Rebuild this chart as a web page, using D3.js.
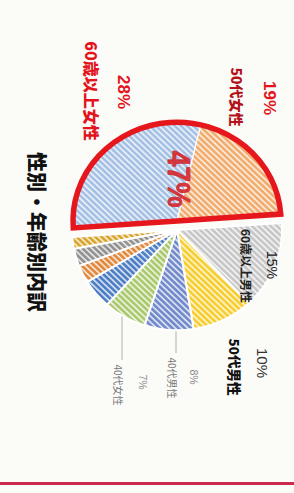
<!DOCTYPE html>
<html>
<head>
<meta charset="utf-8">
<script src="https://cdn.jsdelivr.net/npm/d3@7"></script>
<style>
  html, body { margin: 0; padding: 0; background: #fbfbf8; }
  svg { display: block; }
  text { font-family: "Noto Sans CJK JP", "Noto Sans", sans-serif; }
</style>
</head>
<body>
<svg id="chart" width="294" height="493"></svg>
<script>
// データ
var categories = ["60歳以上女性","50代女性","60歳以上男性","50代男性","40代男性","40代女性","30代男性","30代女性","20代男性","その他"];
var values = [28,19,15,10,8,7,5,3,3,2];
var colors = ["#a3c0e4","#f1ab6c","#c6c6c6","#f6cd2c","#6f88c9","#a9c86c","#4b7cc3","#e1873b","#909090","#d7a52c"];
var groupTotal = "47%";   // 50代以上女性 合計
var title = "性別・年齢別内訳";

// ラベル位置 (画面座標)  [名前x, 名前y, %x, %y]
var labelPos = [
  [92, 91, 123, 92],
  [237, 97, 269, 98],
  [246, 266, 272, 265],
  [235, 367, 262, 363],
  [172, 378, 194, 377],
  [118, 385, 143, 382]
];
var labelStyle = [
  {c1:"#e3141c", c2:"#e3141c", s1:16, s2:17, w1:900, w2:700},
  {c1:"#b3121a", c2:"#e3141c", s1:14, s2:17, w1:900, w2:700},
  {c1:"#222", c2:"#222", s1:12, s2:14, w1:700, w2:400},
  {c1:"#111", c2:"#333", s1:13.5, s2:15, w1:900, w2:400},
  {c1:"#777", c2:"#888", s1:10, s2:10.5, w1:400, w2:400},
  {c1:"#777", c2:"#888", s1:10, s2:10.5, w1:400, w2:400}
];

var svg = d3.select("#chart");
var cx = 177;
var deg = Math.PI/180;
var tilt = -94;   // 半円の向き

// 斜線パターン
var defs = svg.append("defs");
colors.forEach(function(c,i){
  var p = defs.append("pattern")
    .attr("id","hatch"+i)
    .attr("patternUnits","userSpaceOnUse")
    .attr("width",4.4).attr("height",4.4)
    .attr("patternTransform","rotate(-45)");
  p.append("rect").attr("width",4.4).attr("height",4.4).attr("fill",c);
  p.append("line").attr("x1",1).attr("y1",0).attr("x2",1).attr("y2",4.4)
    .attr("stroke","#fff").attr("stroke-width",1.7).attr("stroke-opacity",0.8);
});

// 上の半円 (女性50代以上) と下の半円はそれぞれ180度
var pieTop = d3.pie().sort(null)
  .startAngle(tilt*deg).endAngle((tilt+180)*deg)
  .value(function(d){return d});
var pieBottom = d3.pie().sort(null)
  .startAngle((tilt+180)*deg).endAngle((tilt+360)*deg)
  .value(function(d){return d});

var topArcs = pieTop(values.slice(0,2));
var bottomArcs = pieBottom(values.slice(2));

var rTop = 104, rBottom = 105;
var arcTop = d3.arc().innerRadius(0).outerRadius(rTop);
var arcBottom = d3.arc().innerRadius(0).outerRadius(rBottom);

var gBottom = svg.append("g").attr("transform","translate("+cx+",230) scale(1,0.955)");
gBottom.selectAll("path")
  .data(bottomArcs)
  .enter()
  .append("path")
  .attr("d",arcBottom)
  .attr("fill",function(d,i){return "url(#hatch"+(i+2)+")"})
  .attr("stroke","#fff")
  .attr("stroke-width",2)
  .attr("vector-effect","non-scaling-stroke");

var gTop = svg.append("g").attr("transform","translate("+cx+",221) scale(1,0.95)");
gTop.selectAll("path")
  .data(topArcs)
  .enter()
  .append("path")
  .attr("d",arcTop)
  .attr("fill",function(d,i){return "url(#hatch"+i+")"})
  .attr("stroke","#fff")
  .attr("stroke-width",1.2)
  .attr("vector-effect","non-scaling-stroke");

// 赤枠
gTop.append("path")
  .attr("d",arcTop({startAngle:topArcs[0].startAngle,endAngle:topArcs[1].endAngle}))
  .attr("fill","none")
  .attr("stroke","#e5161c")
  .attr("stroke-width",5.5)
  .attr("stroke-linejoin","miter")
  .attr("vector-effect","non-scaling-stroke");

// 47%
svg.append("text")
  .attr("transform","translate(179,179) rotate(90) scale(0.92,1)")
  .attr("text-anchor","middle")
  .attr("dominant-baseline","central")
  .style("font-family","'Liberation Sans', Arial, sans-serif")
  .style("font-size","31px")
  .style("font-weight",700)
  .attr("fill","#d42328")
  .attr("stroke","#d42328")
  .attr("stroke-width",0.6)
  .attr("fill-opacity",0.9)
  .text(groupTotal);

// 引出線
[4,5].forEach(function(i){
  var x = labelPos[i][0] + 4;
  var dx = x - cx;
  var y0 = 230 + 0.955*Math.sqrt(rBottom*rBottom - dx*dx);
  svg.append("line")
    .attr("x1",x).attr("x2",x)
    .attr("y1",y0+1).attr("y2",labelPos[i][1]-25)
    .attr("stroke","#b0b0b0").attr("stroke-width",1);
});

// ラベル
labelPos.forEach(function(p,i){
  var st = labelStyle[i];
  svg.append("text")
    .attr("transform","translate("+p[0]+","+p[1]+") rotate(90)")
    .attr("text-anchor","middle")
    .attr("dominant-baseline","central")
    .style("font-size",st.s1+"px")
    .style("font-weight",st.w1)
    .attr("fill",st.c1)
    .text(categories[i]);
  svg.append("text")
    .attr("transform","translate("+p[2]+","+p[3]+") rotate(90)")
    .attr("text-anchor","middle")
    .attr("dominant-baseline","central")
    .style("font-family","'Liberation Sans', Arial, sans-serif")
    .style("font-size",st.s2+"px")
    .style("font-weight",st.w2)
    .attr("fill",st.c2)
    .text(values[i]+"%");
});

// タイトル
svg.append("text")
  .attr("transform","translate(37,232) rotate(90)")
  .attr("text-anchor","middle")
  .attr("dominant-baseline","central")
  .style("font-size","20px")
  .style("font-weight",900)
  .attr("fill","#111")
  .text(title);

// 下の赤線
svg.append("line")
  .attr("x1",0).attr("x2",294)
  .attr("y1",483.5).attr("y2",483.5)
  .attr("stroke","#cc2a4c")
  .attr("stroke-width",3);
</script>
</body>
</html>
